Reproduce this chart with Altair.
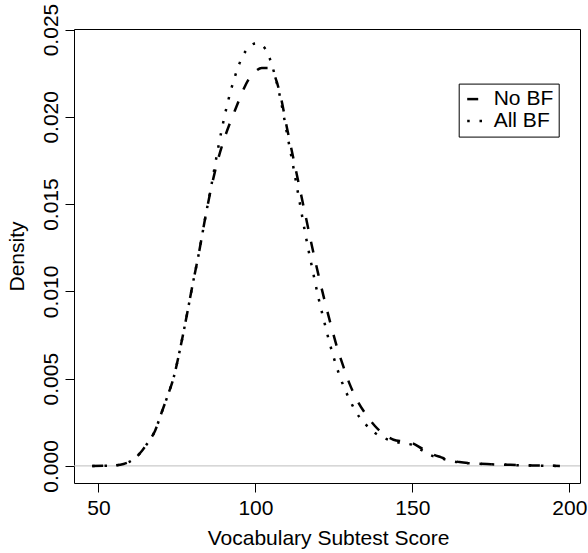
import altair as alt
import pandas as pd

score = [48, 52, 55, 58, 60, 62, 64, 66, 68, 70, 72, 74, 76, 78, 80, 82, 84, 86, 88, 90,
         92, 94, 96, 98, 100, 102, 104, 106, 108, 110, 112, 114, 116, 118, 120, 122, 124,
         126, 128, 130, 132, 135, 138, 141, 144, 147, 150, 153, 156, 159, 162, 165, 170,
         175, 180, 185, 190, 197]

no_bf = [0.0, 0.00001, 0.00003, 0.00011, 0.00025, 0.0005, 0.0009, 0.0014, 0.0020, 0.0030,
         0.0040, 0.0051, 0.0067, 0.0085, 0.0104, 0.0122, 0.0142, 0.0160, 0.0175, 0.0187,
         0.0197, 0.0206, 0.0215, 0.0222, 0.0226, 0.0228, 0.0228, 0.0224, 0.0212, 0.0194,
         0.0177, 0.0160, 0.0143, 0.0126, 0.0110, 0.0095, 0.0081, 0.0068, 0.0057, 0.0047,
         0.0039, 0.0030, 0.0023, 0.0018, 0.0015, 0.0014, 0.0013, 0.0010, 0.0007, 0.0005,
         0.00033, 0.00022, 0.00014, 0.0001, 0.00007, 0.00004, 0.00002, 0.0]

all_bf = [0.0, 0.00001, 0.00003, 0.00011, 0.00025, 0.0005, 0.0009, 0.0014, 0.0020, 0.0030,
          0.0040, 0.0051, 0.0067, 0.0085, 0.0104, 0.0122, 0.0142, 0.0161, 0.0181, 0.0199,
          0.0214, 0.0226, 0.0235, 0.0240, 0.0242, 0.0241, 0.0236, 0.0225, 0.0210, 0.0191,
          0.0172, 0.0152, 0.0132, 0.0114, 0.0097, 0.0082, 0.0068, 0.0056, 0.0046, 0.0038,
          0.0031, 0.0024, 0.0019, 0.0016, 0.0014, 0.0013, 0.0012, 0.0009, 0.0006, 0.00045,
          0.0003, 0.0002, 0.00013, 0.00009, 0.00006, 0.00003, 0.00001, 0.0]

series_names = ["No BF", "All BF"]
x_ticks = [50, 100, 150, 200]
y_ticks = [0.0, 0.005, 0.010, 0.015, 0.020, 0.025]
zero_line = [0.0]

rows = []
for name, vals in zip(series_names, [no_bf, all_bf]):
    for xv, yv in zip(score, vals):
        rows.append({"score": xv, "density": yv, "group": name})
df = pd.DataFrame(rows)

FONT = "Liberation Sans"
FS = 21
W, H = 506, 454

xscale = alt.Scale(domain=[42.2, 203.4], nice=False, zero=False)
yscale = alt.Scale(domain=[-0.00098, 0.02503], nice=False, zero=False)

x_axis = alt.Axis(values=x_ticks, title="Vocabulary Subtest Score", format="d",
                  tickSize=9, labelPadding=5, grid=False,
                  titleX=254, titleY=61, titleBaseline="alphabetic", titleAlign="center")
y_axis = alt.Axis(values=y_ticks, title="Density", format=".3f",
                  tickSize=9, labelPadding=4, grid=False,
                  labelAngle=270, labelAlign="center", labelBaseline="bottom",
                  titleAngle=270, titleX=-51, titleY=227,
                  titleBaseline="alphabetic", titleAlign="center")

base_zero = alt.Chart(pd.DataFrame({"y": zero_line})).mark_rule(
    color="#bebebe", strokeWidth=1
).encode(y=alt.Y("y:Q", scale=yscale, axis=y_axis))

lines = alt.Chart(df).mark_line(
    color="black", strokeWidth=2.5, interpolate="monotone", strokeCap="butt"
).encode(
    x=alt.X("score:Q", scale=xscale, axis=x_axis),
    y=alt.Y("density:Q", scale=yscale, axis=y_axis),
    strokeDash=alt.StrokeDash(
        "group:N",
        scale=alt.Scale(domain=series_names, range=[[11, 13], [2.5, 9.8]]),
        legend=alt.Legend(
            title=None, orient="none", legendX=384.7, legendY=54.6,
            fillColor="white", strokeColor="black", padding=5,
            labelFont=FONT, labelFontSize=FS, labelColor="black",
            symbolType="stroke", symbolSize=324, symbolStrokeWidth=2.5,
            symbolStrokeColor="black", symbolOffset=2, labelOffset=7, rowPadding=0,
        ),
    ),
    order=alt.Order("score:Q"),
)

chart = alt.layer(base_zero, lines).properties(
    width=W, height=H,
    padding={"left": 74, "top": 29, "right": 8, "bottom": 71},
    autosize="none",
    background="white",
).configure_view(
    stroke="black", strokeWidth=1, fill="white"
).configure_axis(
    domain=False, tickColor="black", tickWidth=1,
    labelFont=FONT, labelFontSize=FS, labelColor="black",
    titleFont=FONT, titleFontSize=FS, titleColor="black", titleFontWeight="normal",
).configure_legend(
    strokeWidth=1
)

chart.save("out.html", embed_options={"renderer": "svg", "actions": False})
